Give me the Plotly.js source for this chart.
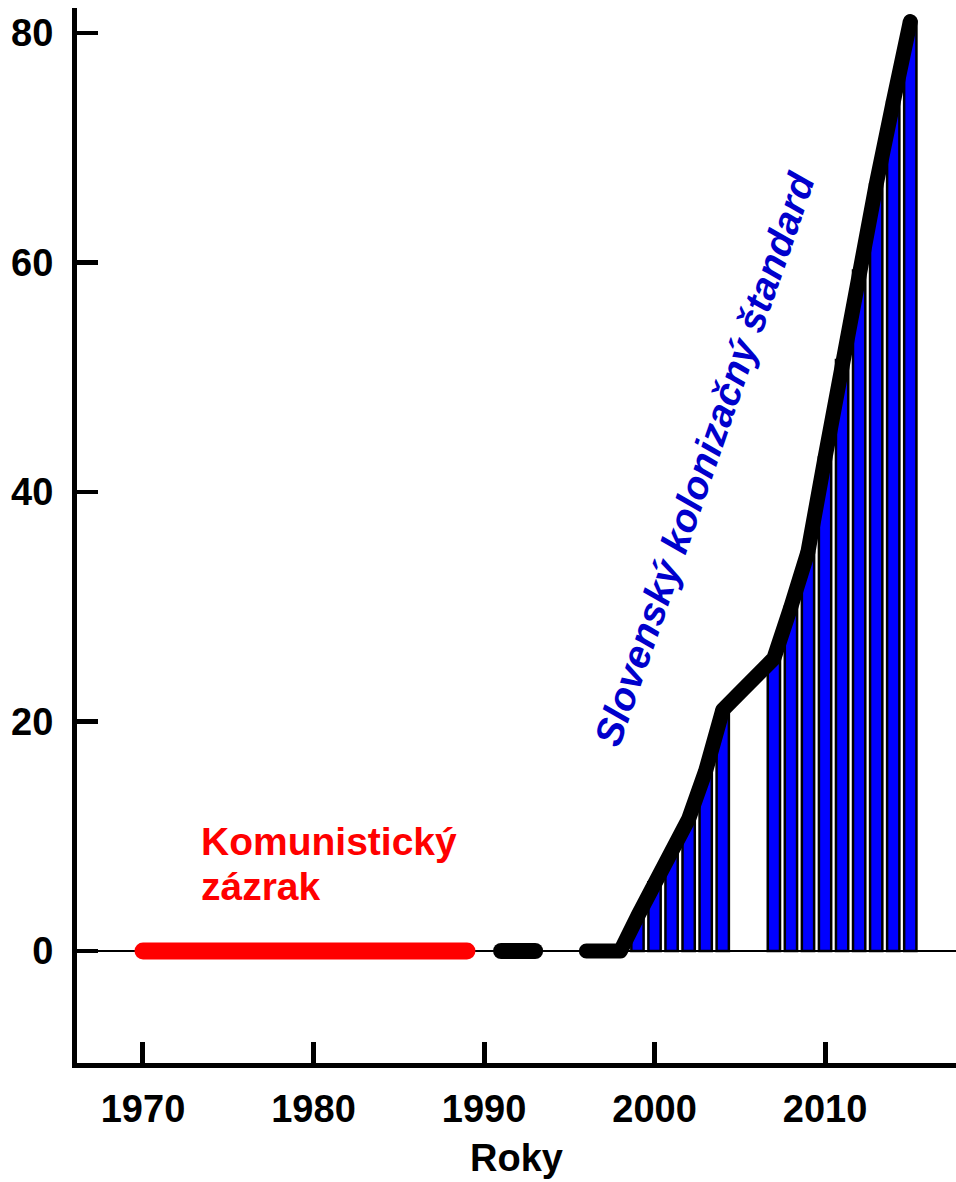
<!DOCTYPE html>
<html>
<head>
<meta charset="utf-8">
<script src="https://cdn.plot.ly/plotly-3.0.1.min.js"></script>
<style>
  html, body { margin: 0; padding: 0; background: #fff; }
  #chart { width: 956px; height: 1182px; }
  path.js-line { stroke-linejoin: round; stroke-linecap: round; }
</style>
</head>
<body>
<div id="chart"></div>
<script>
// ---- data ----
const communistYears = [1970, 1989];
const communistValues = [0, 0];

const gapYears = [1991, 1993];
const gapValues = [0, 0];

const lineYears = [1996, 1997, 1998, 1999, 2000, 2001, 2002, 2003, 2004, 2005, 2006, 2007, 2008, 2009, 2010, 2011, 2012, 2013, 2014, 2015];
const lineValues = [0, 0, 0, 3, 6, 8.6, 11.5, 15.7, 21, 22.5, 24, 25.5, 30, 34.8, 43, 51.5, 59.3, 66.8, 74, 81];

const barYears = [1999, 2000, 2001, 2002, 2003, 2004, 2007, 2008, 2009, 2010, 2011, 2012, 2013, 2014, 2015];
const barValues = [3, 6, 8.6, 11.5, 15.7, 21, 25.5, 30, 34.8, 43, 51.5, 59.3, 66.8, 74, 81];

const xTicks = [1970, 1980, 1990, 2000, 2010];
const yTicks = [0, 20, 40, 60, 80];

const labelCommunist1 = 'Komunistický';
const labelCommunist2 = 'zázrak';
const labelColonial = 'Slovenský kolonizačný štandard';
const xTitle = 'Roky';

// ---- drawing ----
const FONT = '"Liberation Sans", Arial, sans-serif';

const traces = [
  {
    type: 'bar', x: barYears, y: barValues, width: 0.72,
    marker: { color: '#0000ff', line: { color: '#000', width: 2.5 } },
    hoverinfo: 'x+y', showlegend: false
  },
  {
    type: 'scatter', mode: 'lines', x: communistYears, y: communistValues,
    line: { color: '#ff0000', width: 17 }, showlegend: false
  },
  {
    type: 'scatter', mode: 'lines', x: gapYears, y: gapValues,
    line: { color: '#000', width: 16 }, showlegend: false
  },
  {
    type: 'scatter', mode: 'lines', x: lineYears, y: lineValues,
    line: { color: '#000', width: 15 }, showlegend: false
  }
];

const layout = {
  width: 956, height: 1182,
  margin: { l: 77, r: 0, t: 8, b: 119 },
  paper_bgcolor: '#fff', plot_bgcolor: '#fff',
  showlegend: false,
  bargap: 0,
  xaxis: {
    range: [1966.13, 2017.68],
    tickvals: xTicks, ticktext: xTicks.map(String),
    ticks: 'inside', ticklen: 21, tickwidth: 5, tickcolor: '#000',
    showline: true, linewidth: 5, linecolor: '#000',
    showgrid: false, zeroline: false,
    tickfont: { family: FONT, size: 38, color: '#000', weight: 'bold' },
    ticklabelstandoff: 8,
    title: { text: xTitle, font: { family: FONT, size: 38, color: '#000', weight: 'bold' }, standoff: 17 }
  },
  yaxis: {
    range: [-9.76, 82.18],
    tickvals: yTicks, ticktext: yTicks.map(String),
    ticks: 'inside', ticklen: 21, tickwidth: 4.5, tickcolor: '#000',
    showline: true, linewidth: 5, linecolor: '#000',
    showgrid: false,
    zeroline: true, zerolinecolor: '#000', zerolinewidth: 2,
    tickfont: { family: FONT, size: 38, color: '#000', weight: 'bold' },
    ticklabelstandoff: 11
  },
  annotations: [
    {
      x: 1973.3, y: 9.5, xref: 'x', yref: 'y', xanchor: 'left', yanchor: 'middle',
      text: labelCommunist1, showarrow: false,
      font: { family: FONT, size: 39, color: '#ff0000', weight: 'bold' }
    },
    {
      x: 1973.3, y: 5.58, xref: 'x', yref: 'y', xanchor: 'left', yanchor: 'middle',
      text: labelCommunist2, showarrow: false,
      font: { family: FONT, size: 39, color: '#ff0000', weight: 'bold' }
    },
    {
      x: 2002.96, y: 42.88, xref: 'x', yref: 'y', xanchor: 'center', yanchor: 'middle',
      text: labelColonial, showarrow: false, textangle: -71,
      font: { family: FONT, size: 39, color: '#0000cc', weight: 'bold', style: 'italic' }
    }
  ]
};

Plotly.newPlot('chart', traces, layout, { displayModeBar: false, staticPlot: true });
</script>
</body>
</html>
